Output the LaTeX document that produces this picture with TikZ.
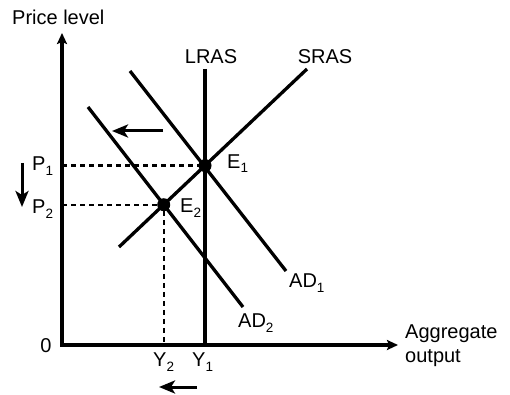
\documentclass[tikz,border=0pt]{standalone}
\usepackage{fontspec}
\setmainfont{Liberation Sans}
\usetikzlibrary{arrows.meta,positioning}
\newcommand{\lowidx}[1]{\raisebox{-5pt}{\fontsize{13.5}{13.5}\selectfont #1}}
\tikzset{
  curve/.style={line width=3.3pt},
  axis/.style={line width=3.2pt,line join=miter,{Stealth[length=11pt,width=10pt,inset=2pt]}-{Stealth[length=11pt,width=10pt,inset=2pt]}},
  guide/.style={line width=2.2pt,dash pattern=on 5pt off 4pt},
  shiftarrow/.style={line width=3pt,-{Stealth[length=16pt,width=13pt,inset=4pt]}},
  eqpt/.style={circle,fill=black,inner sep=0pt,minimum size=13pt},
  lbl/.style={font=\fontsize{20}{24}\selectfont,inner sep=0pt}
}

\begin{document}
\begin{tikzpicture}[x=1pt,y=-1pt]
  \useasboundingbox (0,0) rectangle (510,395);
  % axes
  \coordinate (O) at (62,345);
  \coordinate (ytop) at (62,33);
  \coordinate (xend) at (398,345);
  \draw[axis] (ytop) |- (xend);
  % curve end points
  \coordinate (lras1) at (205,69);
  \coordinate (lras2) at (205,345);
  \coordinate (sras1) at (119,247);
  \coordinate (sras2) at (307,69);
  \coordinate (adA1) at (130,71);
  \coordinate (adA2) at (286,271);
  \coordinate (adB1) at (88,107);
  \coordinate (adB2) at (243,307);
  \coordinate (E1) at (intersection of lras1--lras2 and sras1--sras2);
  \coordinate (E2) at (intersection of adB1--adB2 and sras1--sras2);
  % guides
  \draw[guide] (O |- E1) -- (E1);
  \draw[guide] (O |- E2) -- (E2) -- (E2 |- O);
  % curves
  \draw[curve] (lras1) -- (lras2);
  \draw[curve] (sras1) -- (sras2);
  \draw[curve] (adA1) -- (adA2);
  \draw[curve] (adB1) -- (adB2);
  \node[eqpt] (e1) at (E1) {};
  \node[eqpt] (e2) at (E2) {};
  % shifts
  \coordinate (adshift1) at (163,131);
  \coordinate (adshift2) at (112,131);
  \draw[shiftarrow] (adshift1) -- (adshift2);
  \coordinate (pshift1) at (22,163);
  \coordinate (pshift2) at (22,207);
  \draw[shiftarrow] (pshift1) -- (pshift2);
  \coordinate (yshift1) at (197,387);
  \coordinate (yshift2) at (159,387);
  \draw[shiftarrow] (yshift1) -- (yshift2);
  % labels
  \node[lbl,anchor=base west] (ptitle) at (12,25) {Price level};
  \node[lbl,anchor=base] (llras) at (211,64) {LRAS};
  \node[lbl,anchor=base] (lsras) at (325,64) {SRAS};
  \node[lbl,anchor=base west] (le1) at (227,168) {E\lowidx{1}};
  \node[lbl,anchor=base west] (le2) at (180,212) {E\lowidx{2}};
  \node[lbl,anchor=base west] (lp1) at (32,171) {P\lowidx{1}};
  \node[lbl,anchor=base west] (lp2) at (32,213) {P\lowidx{2}};
  \node[lbl,anchor=base] (lzero) at (46,352) {0};
  \node[lbl,anchor=base west] (ly2) at (153,366) {Y\lowidx{2}};
  \node[lbl,anchor=base west] (ly1) at (192,366) {Y\lowidx{1}};
  \node[lbl,anchor=base west] (lad1) at (289,287) {AD\lowidx{1}};
  \node[lbl,anchor=base west] (lad2) at (238,327) {AD\lowidx{2}};
  \node[lbl,anchor=west,align=left] (xtitle) at (405,346) {Aggregate\\output};
\end{tikzpicture}
\end{document}
